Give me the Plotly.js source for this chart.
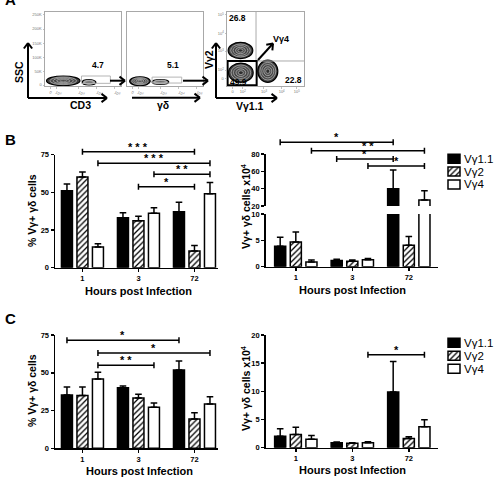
<!DOCTYPE html>
<html>
<head>
<meta charset="utf-8">
<script src="https://cdn.plot.ly/plotly-3.0.1.min.js"></script>
<style>
  html, body { margin: 0; padding: 0; background: #fff; }
  #fig { width: 494px; height: 478px; }
</style>
</head>
<body>
<div id="fig"></div>
<script>
// ---------- data ----------
const hours = ['1', '3', '72'];
const subsets = ['Vγ1.1', 'Vγ2', 'Vγ4'];

// Panel B: % of γδ cells, one row per subset (mean, SEM)
const bPctMean = [[51.0, 33.2, 37.2], [60.2, 31.2, 11.1], [13.7, 36.1, 49.1]];
const bPctSem  = [[4.5, 3.3, 6.2], [3.3, 2.9, 3.7], [2.2, 3.7, 7.5]];
// Panel B: cell numbers (x10^4)
const bNumMean = [[3.9, 1.2, 40.0], [4.7, 1.05, 4.05], [0.9, 1.3, 26.9]];
const bNumSem  = [[1.7, 0.2, 21.5], [1.9, 0.2, 1.7], [0.35, 0.25, 10.8]];
// Panel C: % of γδ cells
const cPctMean = [[35.3, 40.0, 51.9], [34.9, 33.3, 19.4], [45.9, 27.2, 29.4]];
const cPctSem  = [[5.3, 1.3, 5.9], [5.7, 2.5, 4.2], [4.4, 2.8, 4.8]];
// Panel C: cell numbers (x10^4)
const cNumMean = [[2.05, 0.9, 9.9], [2.35, 0.8, 1.65], [1.5, 0.9, 3.7]];
const cNumSem  = [[1.3, 0.1, 5.4], [1.3, 0.1, 0.3], [0.65, 0.15, 1.25]];

// significance brackets: [fromHour, fromSubset, toHour, toSubset, level, stars]
const bPctSig = [[0, 1, 2, 1, 77.0, '***'], [0, 2, 2, 2, 69.3, '***'], [1, 2, 2, 2, 62.0, '**'], [1, 1, 2, 1, 53.8, '*']];
const bNumSig = [[0, 0, 2, 0, 93.5, '*'], [0, 2, 2, 2, 83.8, '**'], [1, 0, 2, 0, 74.2, '*'], [1, 2, 2, 2, 66.2, '*']];
const cPctSig = [[0, 0, 2, 0, 71.5, '*'], [0, 2, 2, 2, 63.1, '*'], [0, 2, 1, 2, 54.9, '**']];
const cNumSig = [[1, 2, 2, 2, 16.5, '*']];

// flow gating frequencies
const gatePct = ['4.7', '5.1'];
const quadPct = ['26.8', '49.9', '22.8'];

// flow populations on display scale (0-100): [cx, cy, rx, ry, tone]
const cd3Pops = [[24, 7, 22, 6.5, 'dark'], [58, 5, 9, 3.5, 'light']];
const gdPops  = [[17, 6.5, 13.5, 6, 'dark'], [44, 5.5, 11, 3.2, 'light']];
const vgPops  = [[17.5, 48, 16, 11, 'dark'], [18, 18, 16, 13, 'dark'], [53, 20, 13, 15, 'dark']];

// flow axis ticks (display scale)
const sscTicks = [1.35, 19.3, 38.2, 57.7, 77, 96];
const sscText = ['0', '50K', '100K', '150K', '200K', '250K'];
const logTicksA = [6.6, 14.5, 44.7, 68.4, 92];
const logTicksB = [7.4, 20.4, 48, 71, 90.5];
const logTicksY = [9.5, 21.6, 47.3, 71.2, 96];
const logText = ['0', '10<sup>2</sup>', '10<sup>3</sup>', '10<sup>4</sup>', '10<sup>5</sup>'];

// ---------- helpers ----------
const FONT = 'Liberation Sans, Arial, Helvetica, sans-serif';
const W = 494, H = 478;
const px = v => v / W;
const py = v => 1 - v / H;
const xDom = (l, r) => [px(l), px(r)];
const yDom = (top, bottom) => [py(bottom), py(top)];

const BARGAP = 0.17, GROUPGAP = 0.29;
const SLOT = (1 - BARGAP) / subsets.length;

const hatch = { shape: '/', fgcolor: '#000', bgcolor: '#fff', size: 4, solidity: 0.32 };
const barStyle = [
  { color: '#000000', pattern: { shape: '' } },
  { color: '#ffffff', pattern: hatch },
  { color: '#ffffff', pattern: { shape: '' } }
];

const layout = {
  width: W, height: H,
  margin: { l: 0, r: 0, t: 0, b: 0, pad: 0 },
  paper_bgcolor: '#ffffff', plot_bgcolor: 'rgba(0,0,0,0)',
  showlegend: false, barmode: 'group', bargap: BARGAP, bargroupgap: GROUPGAP,
  font: { family: FONT, color: '#000' },
  shapes: [], annotations: []
};
const traces = [];

const tickFont = { family: FONT, size: 7.5, color: '#000', weight: 'bold' };

function barXAxis(l, r, range, anchor) {
  return {
    domain: xDom(l, r), range, anchor, tickmode: 'array',
    tickvals: hours.map((_, i) => i), ticktext: hours,
    ticks: 'outside', ticklen: 3, tickwidth: 1.5, tickcolor: '#000',
    showline: true, linewidth: 1.5, linecolor: '#000',
    showgrid: false, zeroline: false, tickfont: tickFont, fixedrange: true
  };
}
function barYAxis(top, bottom, range, anchor, tickvals) {
  return {
    domain: yDom(top, bottom), range, anchor, tickmode: 'array', tickvals,
    ticks: 'outside', ticklen: 3, tickwidth: 1.5, tickcolor: '#000',
    showline: true, linewidth: 1.5, linecolor: '#000',
    showgrid: false, zeroline: false, tickfont: tickFont, fixedrange: true
  };
}
function hiddenAxis(dom, range, anchor) {
  return { domain: dom, range, anchor, visible: false, fixedrange: true };
}

function addBars(means, sems, xa, ya) {
  means.forEach((m, i) => {
    traces.push({
      type: 'bar', x: hours.map((_, k) => k), y: m, xaxis: xa, yaxis: ya,
      name: subsets[i], hoverinfo: 'skip',
      marker: { color: barStyle[i].color, line: { color: '#000', width: 1.5 }, pattern: barStyle[i].pattern },
      error_y: {
        type: 'data', symmetric: false, array: sems[i], arrayminus: sems[i].map(() => 0),
        color: '#000', thickness: 1.5, width: 3.3
      }
    });
  });
}

// brackets drawn on an overlay axis that shares the bar x axis
function addBrackets(sigs, xa, ya, capUnits) {
  const xs = [], ys = [];
  sigs.forEach(([h1, s1, h2, s2, lvl, stars]) => {
    const x1 = h1 + (s1 - 1) * SLOT, x2 = h2 + (s2 - 1) * SLOT;
    xs.push(x1, x1, null, x1, x2, null, x2, x2, null);
    ys.push(lvl - capUnits, lvl + capUnits, null, lvl, lvl, null, lvl - capUnits, lvl + capUnits, null);
    layout.annotations.push({
      xref: xa, yref: ya, x: (x1 + x2) / 2, y: lvl, text: stars.split('').join(' '),
      showarrow: false, xanchor: 'center', yanchor: 'bottom', yshift: -3,
      font: { family: FONT, size: 11, color: '#000', weight: 'bold' }
    });
  });
  traces.push({
    type: 'scatter', mode: 'lines', x: xs, y: ys, xaxis: xa, yaxis: ya,
    line: { color: '#000', width: 1.5 }, hoverinfo: 'skip', connectgaps: false
  });
}

function text(t, x, y, size, extra) {
  return Object.assign({
    xref: 'paper', yref: 'paper', x: px(x), y: py(y), text: t, showarrow: false,
    xanchor: 'center', yanchor: 'middle',
    font: { family: FONT, size, color: '#000', weight: 'bold' }
  }, extra || {});
}

// arrow as a shaft plus an open chevron head, in page pixels
function arrow(tx, ty, hx, hy) {
  const len = Math.hypot(hx - tx, hy - ty);
  const ux = (hx - tx) / len, uy = (hy - ty) / len;
  const head = 5.5, spread = 0.75;
  const seg = (x0, y0, x1, y1) => ({
    type: 'line', xref: 'paper', yref: 'paper', x0: px(x0), y0: py(y0), x1: px(x1), y1: py(y1),
    line: { color: '#000', width: 2 }, layer: 'above'
  });
  const bx = hx - ux * head, by = hy - uy * head;
  const nx = -uy * head * spread, ny = ux * head * spread;
  layout.shapes.push(
    seg(tx, ty, hx, hy),
    seg(bx + nx, by + ny, hx, hy),
    seg(bx - nx, by - ny, hx, hy)
  );
}

// ---------- panel A: flow plots ----------
const ringScale = [1, 0.8, 0.6, 0.4, 0.2];
const toneFill = {
  dark: ['#3f3f3f', '#4e4e4e', '#444444', '#525252', '#2e2e2e'],
  light: ['#7a7a7a', '#8c8c8c', '#6e6e6e', '#8c8c8c', '#6a6a6a']
};
const ringLine = ['#000', '#d2d2d2', '#c8c8c8', '#d2d2d2', '#c8c8c8'];

function addPops(pops, xref, yref) {
  pops.forEach(([cx, cy, rx, ry, tone]) => {
    const n = tone === 'dark' ? ringScale.length : 3;
    for (let k = 0; k < n; k++) {
      const s = ringScale[k];
      layout.shapes.push({
        type: 'circle', xref, yref, layer: 'above',
        x0: cx - rx * s, x1: cx + rx * s, y0: cy - ry * s, y1: cy + ry * s,
        fillcolor: toneFill[tone][k], line: { color: ringLine[k], width: k === 0 ? 1.2 : 0.6 }
      });
    }
  });
}

const flowTickFont = { family: FONT, size: 4, color: '#777' };
function flowAxis(dom, anchor, tickvals, ticktext) {
  return {
    domain: dom, range: [0, 100], anchor, showline: true, mirror: true,
    linecolor: '#a8a8a8', linewidth: 1, showgrid: false, zeroline: false,
    ticks: tickvals ? 'outside' : '', ticklen: 1.5, tickwidth: 0.6, tickcolor: '#999',
    tickmode: 'array', tickvals: tickvals || [], ticktext: ticktext || [],
    showticklabels: !!tickvals, tickfont: flowTickFont, fixedrange: true
  };
}

layout.xaxis  = flowAxis(xDom(45, 121), 'y', logTicksA, logText);
layout.yaxis  = flowAxis(yDom(12, 86), 'x', sscTicks, sscText);
layout.xaxis2 = flowAxis(xDom(127, 203), 'y2', logTicksA, logText);
layout.yaxis2 = flowAxis(yDom(12, 86), 'x2', null, null);
layout.xaxis3 = flowAxis(xDom(227, 304), 'y3', logTicksB, logText);
layout.yaxis3 = flowAxis(yDom(12, 86), 'x3', logTicksY, logText);

// empty traces so the three flow subplots exist
[['x', 'y'], ['x2', 'y2'], ['x3', 'y3']].forEach(([xa, ya]) => {
  traces.push({ type: 'scatter', mode: 'markers', x: [], y: [], xaxis: xa, yaxis: ya, hoverinfo: 'skip' });
});

addPops(cd3Pops, 'x', 'y');
addPops(gdPops, 'x2', 'y2');
addPops(vgPops, 'x3', 'y3');

// gates
layout.shapes.push(
  { type: 'rect', xref: 'x', yref: 'y', x0: 48, x1: 86, y0: 3.6, y1: 13.5, line: { color: '#b5b5b5', width: 1 }, layer: 'above' },
  { type: 'rect', xref: 'x2', yref: 'y2', x0: 33, x1: 72, y0: 4, y1: 12, line: { color: '#b5b5b5', width: 1 }, layer: 'above' },
  { type: 'line', xref: 'x3', yref: 'y3', x0: 37.7, x1: 37.7, y0: 33.8, y1: 100, line: { color: '#aaa', width: 1 }, layer: 'above' },
  { type: 'line', xref: 'x3', yref: 'y3', x0: 37.7, x1: 100, y0: 33.8, y1: 33.8, line: { color: '#aaa', width: 1 }, layer: 'above' },
  { type: 'rect', xref: 'x3', yref: 'y3', x0: 0.8, x1: 38.5, y0: 0.9, y1: 33.8, line: { color: '#000', width: 2 }, layer: 'above' }
);

layout.annotations.push(
  text('A', 10, -0.5, 15),
  text(gatePct[0], 97.5, 65, 8.5),
  text(gatePct[1], 173, 65, 8.5),
  text(quadPct[0], 237, 17.5, 8.5),
  text(quadPct[1], 238.5, 82, 8.5),
  text(quadPct[2], 293, 80, 8.5),
  text('Vγ4', 281, 38.5, 9),
  text('SSC', 19, 72, 10.5, { textangle: -90 }),
  text('CD3', 80, 105.5, 10.5),
  text('γδ', 163, 105.5, 10.5),
  text('Vγ2', 209, 60, 10.5, { textangle: -90 }),
  text('Vγ1.1', 250, 106, 10.5)
);

arrow(28, 98, 28, 43);
arrow(28, 98, 107, 98);
arrow(132, 97.7, 200, 97.7);
arrow(216, 98, 216, 43);
arrow(216, 98, 277, 98);
arrow(110, 80.7, 125, 80.7);
arrow(183, 80.7, 208, 80.7);
arrow(258, 60, 273, 43.5);

// ---------- panel B, left: % cells ----------
layout.xaxis4 = barXAxis(55, 218, [-0.49, 2.42], 'y4');
layout.yaxis4 = barYAxis(154.7, 267.7, [0, 75], 'x4', [0, 25, 50, 75]);
layout.yaxis5 = hiddenAxis(yDom(130, 267.7), [0, 75 * (267.7 - 130) / 113], 'x4');
addBars(bPctMean, bPctSem, 'x4', 'y4');
addBrackets(bPctSig, 'x4', 'y5', 3 * 75 / 113);

// ---------- panel B, right: cell numbers, broken axis ----------
layout.xaxis6 = barXAxis(265.7, 438.3, [-0.533, 2.522], 'y6');
layout.yaxis6 = barYAxis(214, 266.7, [0, 10], 'x6', [0, 5, 10]);
layout.yaxis7 = barYAxis(154, 206, [20, 80], 'x6', [20, 40, 60, 80]);
layout.yaxis8 = hiddenAxis(yDom(125, 206), [20, 20 + (206 - 125) * 60 / 52], 'x6');
addBars(bNumMean, bNumSem, 'x6', 'y6');
addBars(bNumMean, bNumSem, 'x6', 'y7');
addBrackets(bNumSig, 'x6', 'y8', 3 * 60 / 52);

// ---------- panel C, left: % cells ----------
layout.xaxis9 = barXAxis(55, 218, [-0.49, 2.42], 'y9');
layout.yaxis9 = barYAxis(335, 448.3, [0, 75], 'x9', [0, 25, 50, 75]);
layout.yaxis10 = hiddenAxis(yDom(318, 448.3), [0, 75 * (448.3 - 318) / 113.3], 'x9');
addBars(cPctMean, cPctSem, 'x9', 'y9');
addBrackets(cPctSig, 'x9', 'y10', 3 * 75 / 113.3);

// ---------- panel C, right: cell numbers ----------
layout.xaxis11 = barXAxis(265.7, 438.3, [-0.533, 2.522], 'y11');
layout.yaxis11 = barYAxis(335, 447.7, [0, 20], 'x11', [0, 5, 10, 15, 20]);
layout.yaxis12 = hiddenAxis(yDom(325, 447.7), [0, 20 * (447.7 - 325) / 112.7], 'x11');
addBars(cNumMean, cNumSem, 'x11', 'y11');
addBrackets(cNumSig, 'x11', 'y12', 3 * 20 / 112.7);

// ---------- legend keys ----------
function addKey(xa, ya, top, bottom) {
  layout[xa.replace('x', 'xaxis')] = hiddenAxis(xDom(445, 463), [-0.25, 1.25], ya);
  layout[ya.replace('y', 'yaxis')] = hiddenAxis(yDom(top, bottom), [subsets.length - 0.5, -0.5], xa);
  subsets.forEach((s, i) => {
    traces.push({
      type: 'bar', orientation: 'h', x: [1], y: [i], base: 0, width: 0.7, offset: -0.35,
      xaxis: xa, yaxis: ya, hoverinfo: 'skip', name: s,
      marker: { color: barStyle[i].color, line: { color: '#000', width: 1.5 }, pattern: barStyle[i].pattern }
    });
  });
  const step = (bottom - top) / subsets.length;
  subsets.forEach((s, i) => {
    layout.annotations.push({
      xref: 'paper', yref: 'paper', x: px(462), y: py(top + step * (i + 0.5)), text: s,
      showarrow: false, xanchor: 'left', yanchor: 'middle',
      font: { family: FONT, size: 11.5, color: '#000' }
    });
  });
}
addKey('x13', 'y13', 152.4, 190.8);
addKey('x14', 'y14', 336.3, 375.3);

// ---------- titles and panel letters ----------
layout.annotations.push(
  text('B', 10, 139, 15),
  text('C', 10, 318, 15),
  text('% Vγ+ γδ cells', 32, 211, 10.5, { textangle: -90 }),
  text('Vγ+ γδ cells x10<sup>4</sup>', 245, 206, 10.5, { textangle: -90 }),
  text('% Vγ+ γδ cells', 32, 391, 10.5, { textangle: -90 }),
  text('Vγ+ γδ cells x10<sup>4</sup>', 245, 388, 10.5, { textangle: -90 }),
  text('Hours post Infection', 138, 291, 11),
  text('Hours post Infection', 352, 289.5, 11),
  text('Hours post Infection', 139, 471, 11),
  text('Hours post Infection', 352, 470, 11)
);

Plotly.newPlot('fig', traces, layout, { staticPlot: true, displayModeBar: false });
</script>
</body>
</html>
